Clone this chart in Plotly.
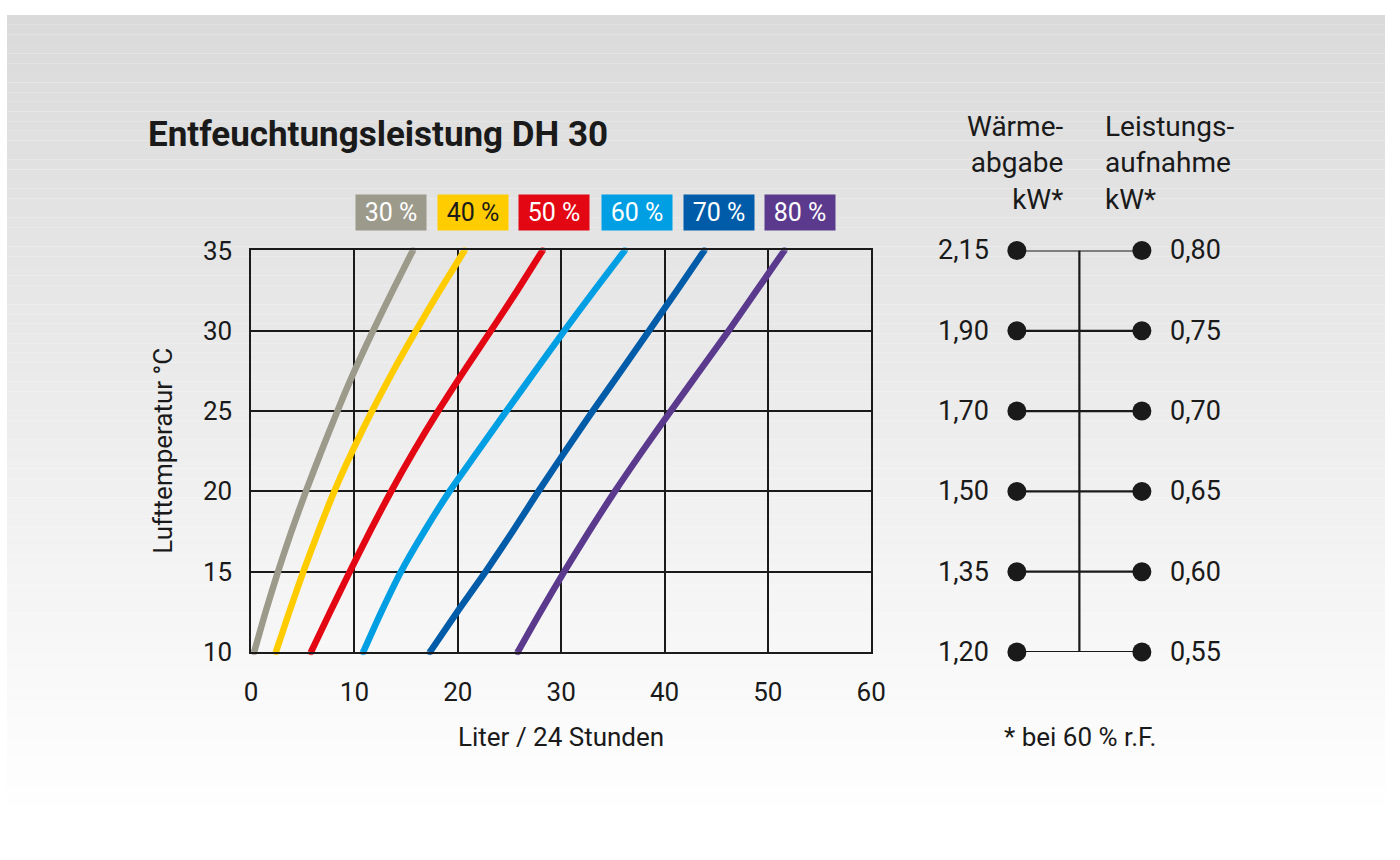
import plotly.graph_objects as go

# ---------------- data ----------------
temps = [10, 12.5, 15, 17.5, 20, 22.5, 25, 27.5, 30, 32.5, 35]
rh_labels = ["30 %", "40 %", "50 %", "60 %", "70 %", "80 %"]
rh30 = [0.3, 1.4, 2.6, 3.9, 5.3, 6.8, 8.35, 10.0, 11.8, 13.7, 15.65]
rh40 = [2.4, 3.7, 5.05, 6.5, 8.05, 9.8, 11.7, 13.75, 15.95, 18.25, 20.65]
rh50 = [5.8, 7.65, 9.55, 11.5, 13.55, 15.75, 18.1, 20.6, 23.2, 25.75, 28.2]
rh60 = [10.85, 12.6, 14.5, 16.75, 19.2, 21.95, 24.7, 27.5, 30.3, 33.2, 36.15]
rh70 = [17.3, 19.95, 22.7, 25.3, 27.8, 30.4, 33.05, 35.8, 38.5, 41.2, 43.85]
rh80 = [25.8, 28.0, 30.3, 32.7, 35.2, 37.85, 40.6, 43.4, 46.2, 48.9, 51.6]
series = [rh30, rh40, rh50, rh60, rh70, rh80]
colors = ["#9c9a8a", "#ffcc00", "#e30613", "#009fe3", "#005ca9", "#5b3a8e"]
label_text_colors = ["white", "#1a1a1a", "white", "white", "white", "white"]

x_ticks = [0, 10, 20, 30, 40, 50, 60]
y_ticks = [10, 15, 20, 25, 30, 35]

heat_levels = [35, 30, 25, 20, 15, 10]
heat_output = ["2,15", "1,90", "1,70", "1,50", "1,35", "1,20"]
power_input = ["0,80", "0,75", "0,70", "0,65", "0,60", "0,55"]

FONT = "Roboto, sans-serif"
W, H = 1400, 860
def px(x):
    return x / W
def py(y):
    return 1 - y / H

fig = go.Figure()

for vals, col, lab in zip(series, colors, rh_labels):
    sizes = [6.5] + [0] * (len(vals) - 2) + [6.5]
    fig.add_trace(go.Scatter(x=vals, y=temps, mode="lines+markers", name=lab,
                             line=dict(color=col, width=6.5, shape="spline", smoothing=0.6),
                             marker=dict(size=sizes, color=col, line=dict(width=0)),
                             cliponaxis=False, showlegend=False, hoverinfo="skip"))

# right-hand scale (secondary axes)
dark = "#1a1a1a"
for lvl in heat_levels:
    fig.add_trace(go.Scatter(x=[0, 1], y=[lvl, lvl], xaxis="x2", yaxis="y2", mode="lines+markers",
                             line=dict(color=dark, width=2.2), marker=dict(size=19, color=dark),
                             cliponaxis=False, showlegend=False, hoverinfo="skip"))
fig.add_trace(go.Scatter(x=[0.5, 0.5], y=[min(heat_levels), max(heat_levels)], xaxis="x2", yaxis="y2",
                         mode="lines", line=dict(color=dark, width=2.2), cliponaxis=False,
                         showlegend=False, hoverinfo="skip"))

annotations = []
for lvl, h, p in zip(heat_levels, heat_output, power_input):
    annotations.append(dict(x=0, y=lvl, xref="x2", yref="y2", text=h, showarrow=False,
                            xanchor="right", xshift=-26, font=dict(size=27, color=dark, family=FONT)))
    annotations.append(dict(x=1, y=lvl, xref="x2", yref="y2", text=p, showarrow=False,
                            xanchor="left", xshift=26, font=dict(size=27, color=dark, family=FONT)))

# legend boxes
box_left = [355, 438, 521, 605, 688, 771]
for lab, col, tc, bx in zip(rh_labels, colors, label_text_colors, box_left):
    annotations.append(dict(x=px(bx + 35), y=py(204.5), xref="paper", yref="paper", text=lab,
                            showarrow=False, bgcolor=col, width=70, height=35, borderpad=0,
                            xanchor="center", yanchor="middle",
                            font=dict(size=25, color=tc, family=FONT)))

# titles
annotations += [
    dict(x=px(141), y=py(124), xref="paper", yref="paper", text="<b>Entfeuchtungsleistung DH 30</b>",
         showarrow=False, xanchor="left", yanchor="middle", font=dict(size=35, color=dark, family=FONT)),
    dict(x=px(563), y=py(748), xref="paper", yref="paper", text="Liter / 24 Stunden",
         showarrow=False, xanchor="center", yanchor="middle", font=dict(size=26, color=dark, family=FONT)),
    dict(x=px(159), y=py(452), xref="paper", yref="paper", text="Lufttemperatur °C", textangle=-90,
         showarrow=False, xanchor="center", yanchor="middle", font=dict(size=26, color=dark, family=FONT)),
    dict(x=px(1076), y=py(96), xref="paper", yref="paper", text="Wärme-<br>abgabe<br>kW*", align="right",
         showarrow=False, xanchor="right", yanchor="top", font=dict(size=28, color=dark, family=FONT)),
    dict(x=px(1113), y=py(96), xref="paper", yref="paper", text="Leistungs-<br>aufnahme<br>kW*", align="left",
         showarrow=False, xanchor="left", yanchor="top", font=dict(size=28, color=dark, family=FONT)),
    dict(x=px(1090), y=py(748), xref="paper", yref="paper", text="* bei 60 % r.F.",
         showarrow=False, xanchor="center", yanchor="middle", font=dict(size=26, color=dark, family=FONT)),
]

# background gradient bands
shapes = []
n = 86
for i in range(n):
    y0 = i * H / n
    y1 = (i + 1) * H / n
    t = min(1.0, (y0 + y1) / 2 / 830)
    v = int(round(218 + (255 - 218) * t))
    shapes.append(dict(type="rect", xref="paper", yref="paper", x0=0, x1=1, y0=py(y1), y1=py(y0),
                       fillcolor=f"rgb({v},{v},{v})", line=dict(width=0), layer="below"))

xd = [px(248), px(878)]
yd = [py(660), py(244)]

axis_common = dict(showgrid=True, gridcolor=dark, gridwidth=1.5, showline=True, linecolor=dark,
                   linewidth=1.5, mirror=True, zeroline=False, ticks="",
                   tickfont=dict(size=26, color=dark, family=FONT), fixedrange=True)

fig.update_layout(
    width=W, height=H, margin=dict(l=0, r=0, t=0, b=0),
    paper_bgcolor="white", plot_bgcolor="white",
    shapes=shapes, annotations=annotations, showlegend=False,
    xaxis=dict(domain=xd, range=[0, 60], tickvals=x_ticks, ticklabelstandoff=16, **axis_common),
    yaxis=dict(domain=yd, range=[10, 35], tickvals=y_ticks, ticklabelstandoff=12, **axis_common),
    xaxis2=dict(domain=[px(1026), px(1153)], range=[0, 1], anchor="y2", visible=False),
    yaxis2=dict(domain=yd, range=[10, 35], anchor="x2", visible=False),
)

fig.write_html("out.html", config={"displayModeBar": False},
               post_script="document.body.style.margin='0';document.body.style.overflow='hidden';"
                           "document.body.style.background='#dadada';")
